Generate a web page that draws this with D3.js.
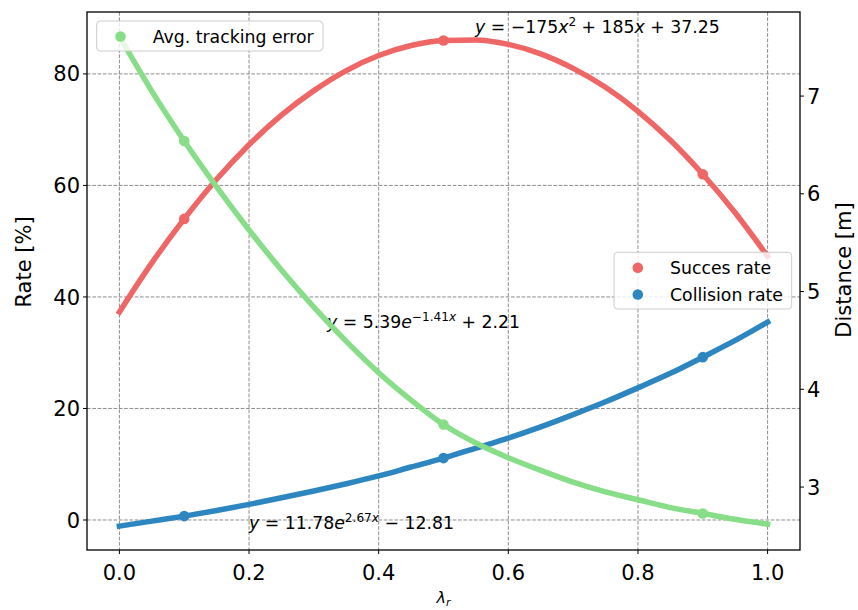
<!DOCTYPE html>
<html><head><meta charset="utf-8">
<script src="https://cdn.jsdelivr.net/npm/d3@7"></script>
<style>body{margin:0;background:#fff} text{font-family:"DejaVu Sans",sans-serif;fill:#000}</style>
</head><body><svg id="c" width="858" height="610"></svg>
<script>
// ---- data ----
const xSamples = [0,0.05,0.1,0.15,0.2,0.25,0.3,0.35,0.4,0.45,0.5,0.55,0.6,0.65,0.7,0.75,0.8,0.85,0.9,0.95,1.0];
const successCurve = [37.3,46.1,54.0,61.1,67.3,72.6,77.0,80.6,83.3,85.1,86.0,86.1,85.3,83.6,81.0,77.6,73.3,68.1,62.0,55.1,47.3];
const collisionCurve = [-1.1,-0.2,0.7,1.7,2.8,4.0,5.2,6.5,7.9,9.5,11.1,12.9,14.7,16.7,18.9,21.2,23.7,26.3,29.2,32.2,35.5];
const trackingCurve = [7.61,7.05,6.54,6.07,5.63,5.22,4.84,4.49,4.17,3.89,3.64,3.45,3.30,3.17,3.05,2.95,2.87,2.79,2.73,2.67,2.62];
const pointX = [0.1,0.5,0.9];
const successPoints = [54.0,86.0,62.0];
const collisionPoints = [0.7,11.1,29.2];
const trackingPoints = [6.54,3.64,2.73];
const xTicks = [0,0.2,0.4,0.6,0.8,1.0];
const leftTicks = [0,20,40,60,80];
const rightTicks = [3,4,5,6,7];
const seriesNames = ["Succes rate","Collision rate","Avg. tracking error"];
const colors = {succ:"#ee6666", coll:"#2e86c1", track:"#88dd88"};

// ---- layout ----
const L=87, R=800, T=12, B=550;
const svg = d3.select("#c");
const x = d3.scaleLinear().domain([-0.05,1.05]).range([L,R]);
const yL = d3.scaleLinear().domain([-5.38,91.1]).range([B,T]);
const yR = d3.scaleLinear().domain([2.356,7.86]).range([B,T]);

// grid
const grid = svg.append("g").attr("stroke","#808080").attr("stroke-width",0.9).attr("stroke-dasharray","3.7,1.6");
xTicks.forEach(t=>grid.append("line").attr("x1",x(t)).attr("x2",x(t)).attr("y1",T).attr("y2",B));
leftTicks.forEach(t=>grid.append("line").attr("x1",L).attr("x2",R).attr("y1",yL(t)).attr("y2",yL(t)));

svg.append("clipPath").attr("id","pc").append("rect").attr("x",L).attr("y",T).attr("width",R-L).attr("height",B-T);

function curve(vals, ys, color){
  const line = d3.line().x((d,i)=>x(xSamples[i])).y(d=>ys(d)).curve(d3.curveMonotoneX);
  svg.append("path").attr("d",line(vals)).attr("fill","none").attr("stroke",color)
    .attr("stroke-width",5.5).attr("stroke-linecap","square").attr("clip-path","url(#pc)");
}
function dots(vals, ys, color){
  svg.append("g").selectAll("circle").data(vals).join("circle")
    .attr("cx",(d,i)=>x(pointX[i])).attr("cy",d=>ys(d)).attr("r",5.3).attr("fill",color);
}
curve(successCurve,yL,colors.succ);
curve(collisionCurve,yL,colors.coll);
dots(successPoints,yL,colors.succ);
dots(collisionPoints,yL,colors.coll);

// math annotations
function mtext(x0,y0,parts,fs){
  const t = svg.append("text").attr("x",x0).attr("y",y0).attr("font-size",fs);
  let shift=0;
  parts.forEach(p=>{
    const s = t.append("tspan").text(p.t);
    if(p.i) s.attr("font-style","italic");
    if(p.sup && shift===0){ s.attr("dy",-0.42*fs).attr("font-size",fs*0.7); shift=1; }
    else if(p.sup){ s.attr("font-size",fs*0.7); }
    else if(shift){ s.attr("dy",0.42*fs); shift=0; }
  });
  return t;
}
const AF=17.3;
mtext(475,33,[{t:"y",i:1},{t:" = −175"},{t:"x",i:1},{t:"2",sup:1},{t:" + 185"},{t:"x",i:1},{t:" + 37.25"}],AF);
mtext(327,328,[{t:"y",i:1},{t:" = 5.39"},{t:"e",i:1},{t:"−1.41",sup:1},{t:"x",i:1,sup:1},{t:" + 2.21"}],AF);
mtext(249,529,[{t:"y",i:1},{t:" = 11.78"},{t:"e",i:1},{t:"2.67",sup:1},{t:"x",i:1,sup:1},{t:" − 12.81"}],AF);

// legends
function legend(x0,y0,w,h,items){
  const g = svg.append("g");
  g.append("rect").attr("x",x0).attr("y",y0).attr("width",w).attr("height",h).attr("rx",3.5)
    .attr("fill","#fff").attr("fill-opacity",0.8).attr("stroke","#cccccc").attr("stroke-width",1);
  items.forEach((it,i)=>{
    const cy = y0+15.5+i*26.7;
    g.append("circle").attr("cx",x0+23.8).attr("cy",cy).attr("r",5.3).attr("fill",it.c);
    g.append("text").attr("x",x0+56).attr("y",cy+6.2).attr("font-size",17.3).text(it.n);
  });
}
legend(614,252.3,177.7,56.7,[{n:seriesNames[0],c:colors.succ},{n:seriesNames[1],c:colors.coll}]);

// secondary axis series
curve(trackingCurve,yR,colors.track);
dots(trackingPoints,yR,colors.track);
legend(96.7,21,226.3,30,[{n:seriesNames[2],c:colors.track}]);

// spines
svg.append("rect").attr("x",L).attr("y",T).attr("width",R-L).attr("height",B-T).attr("fill","none").attr("stroke","#000").attr("stroke-width",1.3);

// ticks
const TF=21;
const ax = svg.append("g");
xTicks.forEach(t=>{
  ax.append("line").attr("x1",x(t)).attr("x2",x(t)).attr("y1",B).attr("y2",B+4).attr("stroke","#000");
  ax.append("text").attr("x",x(t)).attr("y",B+30).attr("text-anchor","middle").attr("font-size",TF).text(d3.format(".1f")(t));
});
leftTicks.forEach(t=>{
  ax.append("line").attr("x1",L-4).attr("x2",L).attr("y1",yL(t)).attr("y2",yL(t)).attr("stroke","#000");
  ax.append("text").attr("x",L-7).attr("y",yL(t)+7.6).attr("text-anchor","end").attr("font-size",TF).text(t);
});
rightTicks.forEach(t=>{
  ax.append("line").attr("x1",R).attr("x2",R+4).attr("y1",yR(t)).attr("y2",yR(t)).attr("stroke","#000");
  ax.append("text").attr("x",R+7).attr("y",yR(t)+7.6).attr("text-anchor","start").attr("font-size",TF).text(t);
});
// axis labels
svg.append("text").attr("transform","translate(31,262) rotate(-90)").attr("text-anchor","middle").attr("font-size",TF).text("Rate [%]");
svg.append("text").attr("transform","translate(851,270) rotate(-90)").attr("text-anchor","middle").attr("font-size",TF).text("Distance [m]");
const xl = svg.append("text").attr("x",(L+R)/2).attr("y",603).attr("text-anchor","middle").attr("font-size",16);
xl.append("tspan").attr("font-style","italic").text("λ");
xl.append("tspan").attr("font-style","italic").attr("font-size",11).attr("dy",3).text("r");
</script></body></html>
